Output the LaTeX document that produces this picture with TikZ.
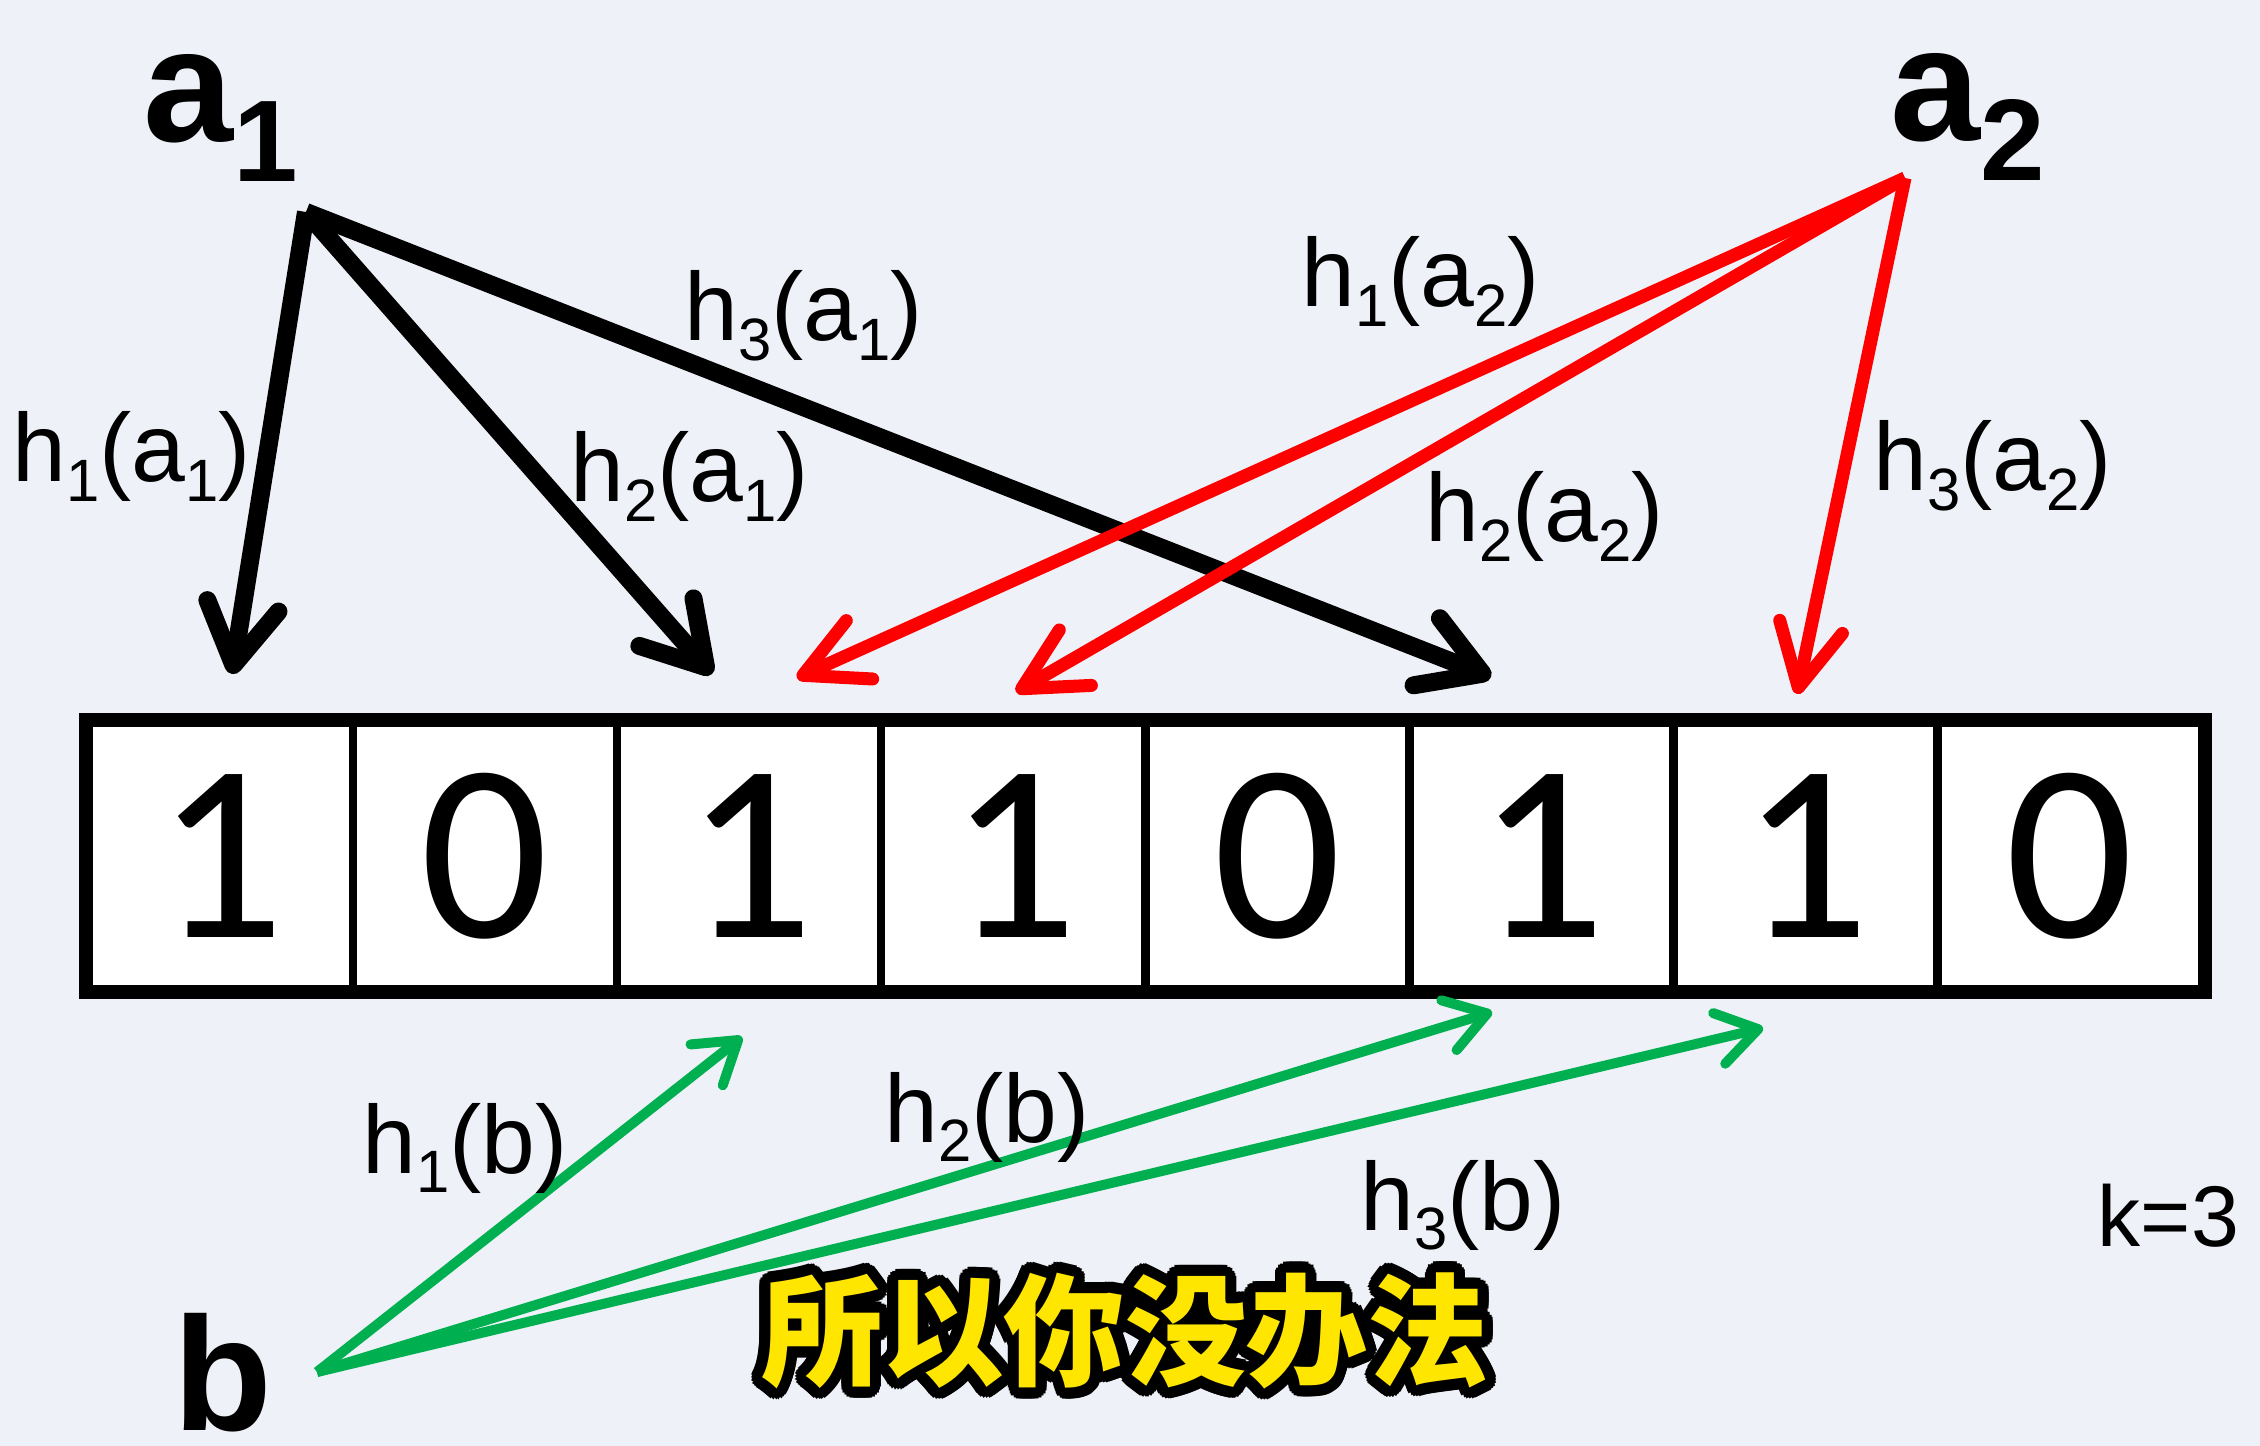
\documentclass[tikz,border=0pt]{standalone}
\usepackage{fontspec}
\setmainfont{Liberation Sans}
\newfontfamily\digitfont{Carlito}
\newfontfamily\cjk{Noto Sans CJK SC}
\usetikzlibrary{arrows.meta,calc}
\definecolor{bg}{RGB}{238,241,248}
\definecolor{arrred}{RGB}{255,0,0}
\definecolor{arrgreen}{RGB}{0,176,80}
\definecolor{subyellow}{RGB}{255,230,0}
\newcommand\sbs[1]{\raisebox{-0.19cm}{\fontsize{17}{17}\selectfont #1}}
\newcommand\bigsub[1]{\raisebox{-0.39cm}{\fontsize{33}{33}\selectfont\bfseries #1}}
\tikzset{
  lbl/.style={anchor=base west, inner sep=0pt, font=\fontsize{27.5}{28}\selectfont},
  biglbl/.style={anchor=base west, inner sep=0pt, font=\fontsize{46}{46}\selectfont\bfseries},
  cell/.style={draw=black, fill=white, line width=0.085cm, minimum width=2.641cm, minimum height=2.66cm, inner sep=0pt, font=\digitfont\fontsize{72}{72}\selectfont},
  blackarrow/.style={draw=black, line width=0.18cm, -{Straight Barb[length=0.6cm,width=0.72cm,round]}},
  redarrow/.style={draw=arrred, line width=0.13cm, -{Straight Barb[length=0.62cm,width=0.64cm,round]}},
  greenarrow/.style={draw=arrgreen, line width=0.1cm, -{Straight Barb[length=0.4cm,width=0.52cm,round]}},
  subtxt/.style={inner sep=0pt, font=\cjk\bfseries\fontsize{34.5}{35}\selectfont},
}
\begin{document}
\begin{tikzpicture}[x=0.01cm,y=-0.01cm]
\fill[bg] (0,0) rectangle (2260,1446);
\useasboundingbox (0,0) rectangle (2260,1446);

% bit array
\foreach \i/\d in {1/1,2/0,3/1,4/1,5/0,6/1,7/1,8/0}{
  \node[cell] (c\i) at ({89+264.1*(\i-0.5)},856) {\d};
}
\draw[line width=0.12cm] (c1.north west) rectangle (c8.south east);

% sources
\node[biglbl] (a1) at (143,142) {a\bigsub{1}};
\node[biglbl] (a2) at (1890,141) {a\bigsub{2}};
\node[biglbl] (b) at (173,1430) {b};

\coordinate (a1o) at (306,212);
\coordinate (a2o) at (1905,178);
\coordinate (bo) at (317,1372);

\coordinate (t11) at (232,674);
\coordinate (t12) at (712,674);
\coordinate (t13) at (1491,677);
\coordinate (t21) at (797,678);
\coordinate (t22) at (1016,692);
\coordinate (t23) at (1797,694);
\coordinate (tb1) at (742,1037);
\coordinate (tb2) at (1492,1012);
\coordinate (tb3) at (1763,1028);

% arrows
\draw[blackarrow] (a1o) -- (t11);
\draw[blackarrow] (a1o) -- (t12);
\draw[blackarrow] (a1o) -- (t13);
\draw[redarrow] (a2o) -- (t21);
\draw[redarrow] (a2o) -- (t22);
\draw[redarrow] (a2o) -- (t23);
\draw[greenarrow] (bo) -- (tb1);
\draw[greenarrow] (bo) -- (tb2);
\draw[greenarrow] (bo) -- (tb3);

% labels
\node[lbl] (l11) at (12,482) {h\sbs{1}(a\sbs{1})};
\node[lbl] (l12) at (570,502) {h\sbs{2}(a\sbs{1})};
\node[lbl] (l13) at (684,341) {h\sbs{3}(a\sbs{1})};
\node[lbl] (l21) at (1301,307) {h\sbs{1}(a\sbs{2})};
\node[lbl] (l22) at (1425,542) {h\sbs{2}(a\sbs{2})};
\node[lbl] (l23) at (1873,491) {h\sbs{3}(a\sbs{2})};
\node[lbl] (lb1) at (362,1173) {h\sbs{1}(b)};
\node[lbl] (lb2) at (884,1142) {h\sbs{2}(b)};
\node[lbl] (lb3) at (1360,1230) {h\sbs{3}(b)};
\node[lbl, font=\fontsize{24.5}{25}\selectfont] (k) at (2097,1246) {k=3};

% subtitle
\coordinate (subc) at (1125,1331);
\foreach \ang in {0,15,...,345}{
  \node[subtxt, text=black] (so\ang) at ($(subc)+(\ang:0.11cm)$) {所以你没办法};
}
\node[subtxt, text=subyellow] (subt) at (subc) {所以你没办法};
\end{tikzpicture}
\end{document}
